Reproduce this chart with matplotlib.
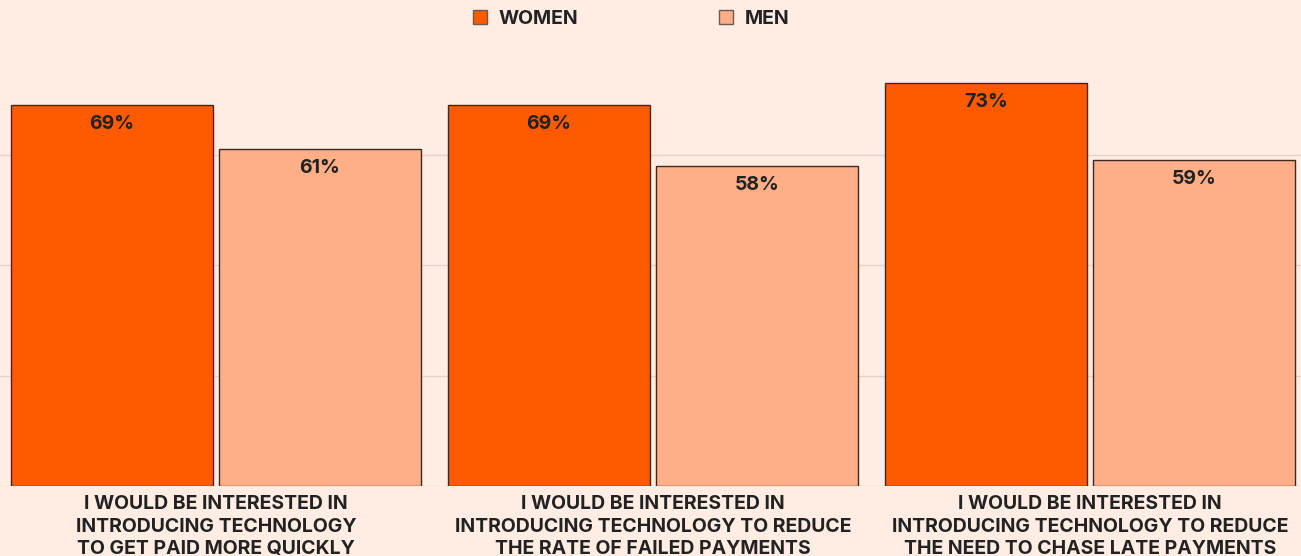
import numpy as np
import matplotlib
matplotlib.use("Agg")
import matplotlib.pyplot as plt
from matplotlib.patches import Patch

categories = [
    "I WOULD BE INTERESTED IN\nINTRODUCING TECHNOLOGY\nTO GET PAID MORE QUICKLY",
    "I WOULD BE INTERESTED IN\nINTRODUCING TECHNOLOGY TO REDUCE\nTHE RATE OF FAILED PAYMENTS",
    "I WOULD BE INTERESTED IN\nINTRODUCING TECHNOLOGY TO REDUCE\nTHE NEED TO CHASE LATE PAYMENTS",
]
women = [69, 69, 73]
men = [61, 58, 59]
series_names = ["WOMEN", "MEN"]

BG = "#FFEDE4"
C_WOMEN = "#FF5A00"
C_MEN = "#FFAF87"
TXT = "#222222"

plt.rcParams['font.family'] = ['Inter', 'DejaVu Sans']

fig = plt.figure(figsize=(13.01, 5.56), dpi=100, facecolor=BG)
ax = fig.add_axes([0, 70 / 556, 1, (486 - 44.4) / 556])
ax.set_facecolor(BG)

x = np.arange(len(categories))
w = 202 / 437
off = 104 / 437

bw = ax.bar(x - off, women, w, color=C_WOMEN, edgecolor="#3a2a22", linewidth=1, zorder=3)
bm = ax.bar(x + off, men, w, color=C_MEN, edgecolor="#3a2a22", linewidth=1, zorder=3)

for bars in (bw, bm):
    for b in bars:
        ax.annotate(f"{b.get_height():.0f}%", (b.get_x() + b.get_width() / 2, b.get_height()),
                    xytext=(0, -7), textcoords="offset points", ha="center", va="top",
                    fontsize=14, fontweight="bold", color=TXT, zorder=4)

ax.set_xlim(-216 / 437, (1301 - 216) / 437)
ax.set_ylim(0, 80)
ax.set_yticks([0, 20, 40, 60])
ax.grid(axis="y", color="#E2D2CC", linewidth=1, zorder=0)
ax.tick_params(left=False, bottom=False, labelleft=False)
ax.set_xticks(x)
ax.set_xticklabels(categories, fontsize=14, fontweight="bold", color=TXT, linespacing=1.32)
ax.tick_params(axis="x", pad=3)
for s in ax.spines.values():
    s.set_visible(False)

handles = [Patch(facecolor=C_WOMEN, edgecolor="#6a5a55"), Patch(facecolor=C_MEN, edgecolor="#6a5a55")]
leg = fig.legend(handles, series_names, loc="center", bbox_to_anchor=(631 / 1301, 1 - 19 / 556),
                 ncol=2, frameon=False, handlelength=0.75, handleheight=0.75, handletextpad=0.6,
                 columnspacing=7.2, prop={"size": 14, "weight": "bold"})
for t in leg.get_texts():
    t.set_color(TXT)

fig.savefig("out.png", dpi=100, facecolor=BG)
